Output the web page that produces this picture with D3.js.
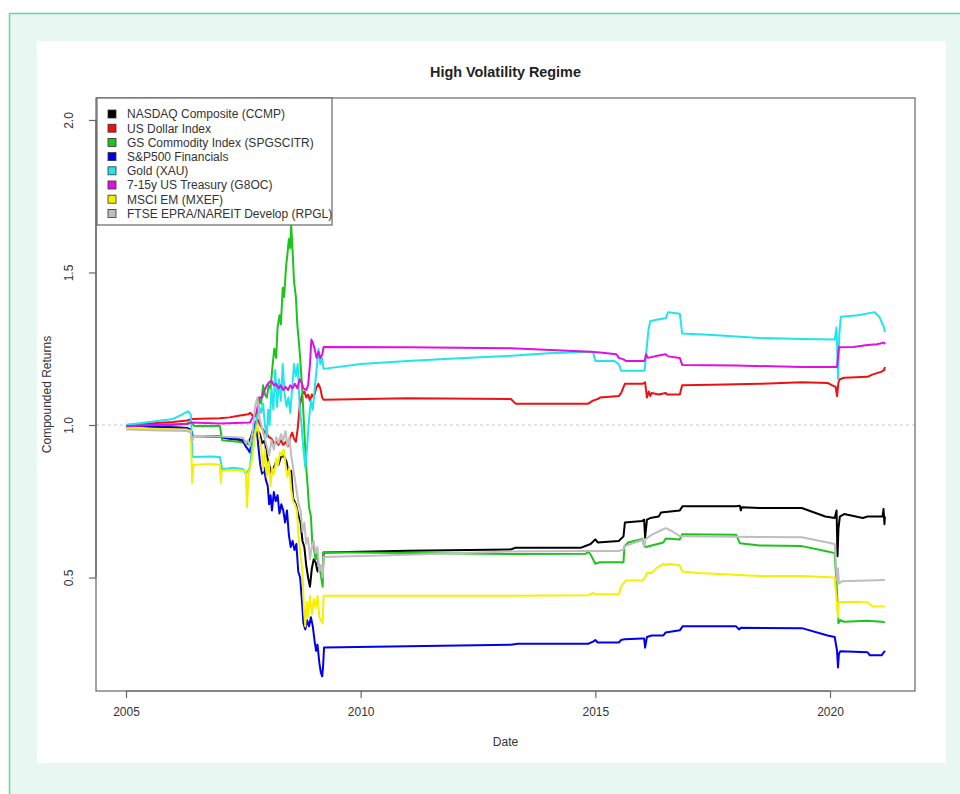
<!DOCTYPE html>
<html>
<head>
<meta charset="utf-8">
<script src="https://cdn.jsdelivr.net/npm/d3@7"></script>
<style>
  html, body { margin: 0; padding: 0; background: #ffffff; }
  svg { display: block; }
  text { font-family: "Liberation Sans", Arial, Helvetica, sans-serif; }
</style>
</head>
<body>
<svg id="chart" width="960" height="794"></svg>
<script>
// ---- Series definitions (decimal year, compounded return) ----
const seriesNames = [
  "NASDAQ Composite (CCMP)",
  "US Dollar Index",
  "GS Commodity Index (SPGSCITR)",
  "S&P500 Financials",
  "Gold (XAU)",
  "7-15y US Treasury (G8OC)",
  "MSCI EM (MXEF)",
  "FTSE EPRA/NAREIT Develop (RPGL)"
];
const seriesColors = ["#000000", "#ee1111", "#1cc41c", "#0000ee", "#22e4ec", "#e010e0", "#f5ef00", "#bebebe"];

const nasdaq = [
  [2005.00,1.000],[2005.50,0.995],[2006.30,0.990],[2006.38,0.985],[2006.42,0.965],[2007.00,0.962],
  [2007.20,0.955],[2007.50,0.950],[2007.60,0.940],[2007.65,0.955],[2007.72,0.990],[2007.79,0.985],
  [2007.855,0.970],[2007.90,0.940],[2007.96,0.950],[2008.00,0.900],[2008.05,0.870],[2008.10,0.840],
  [2008.15,0.860],[2008.20,0.880],[2008.25,0.870],[2008.30,0.895],[2008.36,0.900],[2008.42,0.880],
  [2008.47,0.840],[2008.52,0.850],[2008.56,0.760],[2008.62,0.740],[2008.68,0.700],[2008.72,0.680],
  [2008.76,0.620],[2008.80,0.600],[2008.84,0.540],[2008.88,0.500],[2008.92,0.470],[2008.96,0.530],
  [2009.00,0.560],[2009.04,0.550],[2009.08,0.520],[2009.12,0.540],[2009.16,0.510],[2009.19,0.500],
  [2009.21,0.582],[2011.00,0.588],[2013.20,0.592],[2013.30,0.598],[2014.70,0.598],[2014.90,0.610],
  [2015.00,0.625],[2015.05,0.615],[2015.50,0.620],[2015.60,0.635],[2015.63,0.680],[2016.00,0.685],
  [2016.04,0.690],[2016.06,0.630],[2016.10,0.690],[2016.17,0.695],[2016.35,0.700],[2016.40,0.713],
  [2016.80,0.720],[2016.86,0.734],[2018.00,0.734],[2018.08,0.735],[2018.10,0.720],[2018.12,0.730],
  [2018.50,0.728],[2019.40,0.728],[2019.90,0.700],[2020.10,0.695],[2020.14,0.720],[2020.16,0.570],
  [2020.18,0.660],[2020.21,0.700],[2020.30,0.708],[2020.70,0.695],[2020.80,0.700],[2021.12,0.700],
  [2021.14,0.725],[2021.16,0.675],[2021.17,0.700]
];

const usDollar = [
  [2005.00,1.000],[2005.50,1.005],[2006.00,1.010],[2006.30,1.015],[2006.40,1.020],[2007.00,1.022],
  [2007.20,1.025],[2007.40,1.030],[2007.60,1.035],[2007.65,1.040],[2007.70,1.030],[2007.75,1.035],
  [2007.80,1.020],[2007.86,1.000],[2007.92,0.985],[2007.96,0.975],[2008.00,0.970],[2008.05,0.960],
  [2008.10,0.955],[2008.15,0.940],[2008.20,0.945],[2008.25,0.935],[2008.30,0.950],[2008.35,0.935],
  [2008.40,0.945],[2008.45,0.930],[2008.50,0.960],[2008.54,0.975],[2008.58,0.955],[2008.62,0.945],
  [2008.66,0.990],[2008.70,1.060],[2008.75,1.100],[2008.80,1.110],[2008.84,1.090],[2008.88,1.100],
  [2008.92,1.080],[2008.96,1.100],[2009.00,1.090],[2009.05,1.120],[2009.10,1.135],[2009.14,1.120],
  [2009.18,1.090],[2009.21,1.083],[2011.00,1.088],[2013.20,1.085],[2013.30,1.070],[2014.85,1.070],
  [2014.95,1.080],[2015.05,1.085],[2015.10,1.090],[2015.50,1.095],[2015.55,1.105],[2015.63,1.135],
  [2016.00,1.135],[2016.06,1.140],[2016.10,1.090],[2016.14,1.110],[2016.17,1.095],[2016.20,1.105],
  [2016.35,1.100],[2016.50,1.105],[2016.53,1.100],[2016.80,1.100],[2016.85,1.130],[2017.50,1.132],
  [2018.50,1.135],[2019.40,1.140],[2019.95,1.138],[2020.05,1.130],[2020.12,1.125],[2020.15,1.095],
  [2020.18,1.140],[2020.21,1.150],[2020.30,1.155],[2020.80,1.158],[2020.90,1.165],[2021.10,1.175],
  [2021.15,1.180],[2021.17,1.190]
];

const commodity = [
  [2005.00,1.000],[2005.50,1.000],[2006.00,1.000],[2006.30,1.005],[2006.38,1.010],[2006.45,0.997],
  [2007.00,0.997],[2007.05,0.950],[2007.40,0.945],[2007.55,0.940],[2007.62,0.935],[2007.70,0.950],
  [2007.75,0.970],[2007.80,1.040],[2007.84,1.090],[2007.88,1.070],[2007.92,1.130],[2007.96,1.100],
  [2008.00,1.090],[2008.04,1.130],[2008.08,1.120],[2008.12,1.190],[2008.16,1.250],[2008.20,1.220],
  [2008.23,1.320],[2008.27,1.360],[2008.30,1.330],[2008.34,1.450],[2008.37,1.420],[2008.41,1.520],
  [2008.44,1.560],[2008.47,1.610],[2008.50,1.580],[2008.52,1.655],[2008.55,1.570],[2008.58,1.470],
  [2008.62,1.420],[2008.65,1.330],[2008.69,1.260],[2008.72,1.200],[2008.76,1.100],[2008.80,0.980],
  [2008.84,0.860],[2008.87,0.800],[2008.90,0.730],[2008.94,0.700],[2008.97,0.610],[2009.00,0.600],
  [2009.04,0.560],[2009.07,0.580],[2009.10,0.540],[2009.14,0.520],[2009.17,0.490],[2009.19,0.470],
  [2009.21,0.583],[2011.00,0.580],[2013.30,0.577],[2014.80,0.578],[2014.85,0.585],[2014.90,0.575],
  [2015.00,0.545],[2015.10,0.550],[2015.60,0.550],[2015.62,0.603],[2015.70,0.615],[2016.00,0.626],
  [2016.04,0.605],[2016.08,0.600],[2016.20,0.605],[2016.45,0.615],[2016.50,0.628],[2016.80,0.625],
  [2016.85,0.642],[2018.00,0.640],[2018.08,0.612],[2018.50,0.605],[2019.40,0.603],[2019.95,0.585],
  [2020.10,0.580],[2020.15,0.450],[2020.18,0.350],[2020.22,0.360],[2020.30,0.355],[2020.80,0.358],
  [2021.10,0.355],[2021.17,0.353]
];

const financials = [
  [2005.00,1.000],[2005.50,0.995],[2006.30,0.990],[2006.38,0.985],[2006.42,0.963],[2007.00,0.962],
  [2007.10,0.958],[2007.40,0.955],[2007.50,0.945],[2007.55,0.930],[2007.60,0.920],[2007.64,0.910],
  [2007.68,0.950],[2007.72,0.990],[2007.76,1.010],[2007.79,0.980],[2007.82,0.930],[2007.86,0.870],
  [2007.90,0.840],[2007.94,0.860],[2007.98,0.820],[2008.02,0.800],[2008.05,0.740],[2008.08,0.770],
  [2008.11,0.720],[2008.15,0.780],[2008.19,0.750],[2008.23,0.770],[2008.27,0.710],[2008.31,0.740],
  [2008.35,0.720],[2008.39,0.680],[2008.43,0.720],[2008.47,0.640],[2008.51,0.600],[2008.55,0.620],
  [2008.59,0.590],[2008.63,0.610],[2008.67,0.520],[2008.71,0.500],[2008.75,0.420],[2008.78,0.350],
  [2008.82,0.330],[2008.86,0.360],[2008.90,0.340],[2008.94,0.370],[2008.98,0.340],[2009.02,0.290],
  [2009.05,0.260],[2009.08,0.280],[2009.12,0.220],[2009.15,0.190],[2009.18,0.176],[2009.20,0.210],
  [2009.22,0.271],[2011.00,0.275],[2013.20,0.280],[2013.35,0.283],[2014.85,0.283],[2014.95,0.290],
  [2015.00,0.295],[2015.05,0.287],[2015.50,0.287],[2015.55,0.295],[2015.63,0.298],[2016.00,0.300],
  [2016.04,0.300],[2016.06,0.270],[2016.10,0.305],[2016.20,0.310],[2016.45,0.310],[2016.50,0.320],
  [2016.80,0.327],[2016.86,0.340],[2018.00,0.340],[2018.06,0.330],[2018.10,0.335],[2019.40,0.334],
  [2019.95,0.310],[2020.10,0.305],[2020.15,0.260],[2020.17,0.205],[2020.19,0.250],[2020.22,0.258],
  [2020.80,0.255],[2020.85,0.245],[2021.10,0.245],[2021.17,0.260]
];

const gold = [
  [2005.00,1.000],[2005.50,1.010],[2006.00,1.020],[2006.20,1.035],[2006.32,1.045],[2006.38,1.035],
  [2006.42,0.895],[2006.80,0.897],[2007.00,0.895],[2007.05,0.855],[2007.30,0.860],[2007.50,0.855],
  [2007.55,0.840],[2007.60,0.850],[2007.64,0.860],[2007.68,0.920],[2007.72,0.960],[2007.76,0.990],
  [2007.80,1.030],[2007.84,1.060],[2007.88,1.040],[2007.92,1.070],[2007.96,1.000],[2008.00,0.960],
  [2008.03,1.050],[2008.06,1.000],[2008.10,1.120],[2008.14,1.050],[2008.18,1.180],[2008.22,1.060],
  [2008.26,1.150],[2008.30,1.080],[2008.34,1.200],[2008.38,1.100],[2008.42,1.060],[2008.46,1.090],
  [2008.50,1.040],[2008.54,1.120],[2008.58,1.200],[2008.62,1.160],[2008.66,1.200],[2008.70,1.060],
  [2008.74,1.000],[2008.78,0.920],[2008.82,0.860],[2008.86,0.930],[2008.90,1.020],[2008.94,1.080],
  [2008.98,1.050],[2009.02,1.120],[2009.06,1.180],[2009.10,1.250],[2009.14,1.200],[2009.18,1.220],
  [2009.21,1.184],[2010.00,1.200],[2011.00,1.210],[2012.00,1.218],[2013.00,1.225],[2014.00,1.235],
  [2014.95,1.240],[2015.00,1.210],[2015.40,1.210],[2015.50,1.200],[2015.55,1.178],[2016.05,1.178],
  [2016.10,1.260],[2016.13,1.310],[2016.17,1.340],[2016.30,1.345],[2016.50,1.350],[2016.55,1.370],
  [2016.80,1.365],[2016.85,1.300],[2017.50,1.295],[2018.50,1.285],[2019.40,1.282],[2020.10,1.280],
  [2020.14,1.320],[2020.17,1.150],[2020.20,1.300],[2020.23,1.355],[2020.60,1.360],[2020.95,1.370],
  [2021.05,1.355],[2021.15,1.320],[2021.17,1.305]
];

const treasury = [
  [2005.00,0.995],[2005.50,1.000],[2006.30,1.003],[2006.40,1.008],[2007.00,1.005],[2007.50,1.007],
  [2007.64,1.008],[2007.72,1.030],[2007.78,1.040],[2007.84,1.090],[2007.90,1.090],[2007.94,1.110],
  [2008.00,1.130],[2008.05,1.140],[2008.10,1.145],[2008.15,1.130],[2008.20,1.135],[2008.25,1.120],
  [2008.30,1.130],[2008.35,1.115],[2008.40,1.125],[2008.45,1.115],[2008.50,1.130],[2008.55,1.120],
  [2008.60,1.135],[2008.65,1.120],[2008.70,1.150],[2008.74,1.140],[2008.78,1.120],[2008.84,1.115],
  [2008.88,1.130],[2008.92,1.200],[2008.95,1.280],[2008.98,1.270],[2009.02,1.250],[2009.06,1.220],
  [2009.10,1.240],[2009.14,1.220],[2009.18,1.230],[2009.21,1.256],[2011.00,1.255],[2013.20,1.252],
  [2014.90,1.240],[2015.10,1.238],[2015.45,1.232],[2015.50,1.220],[2015.60,1.215],[2015.65,1.210],
  [2016.05,1.210],[2016.08,1.232],[2016.12,1.220],[2016.35,1.228],[2016.50,1.232],[2016.55,1.225],
  [2016.80,1.220],[2016.85,1.197],[2018.00,1.195],[2019.40,1.190],[2020.10,1.190],[2020.15,1.190],
  [2020.19,1.255],[2020.50,1.256],[2020.80,1.262],[2021.00,1.265],[2021.15,1.270],[2021.17,1.265]
];

const emerging = [
  [2005.00,0.990],[2005.50,0.988],[2006.30,0.985],[2006.38,0.980],[2006.41,0.810],[2006.44,0.870],
  [2006.80,0.872],[2007.00,0.870],[2007.02,0.810],[2007.04,0.850],[2007.30,0.852],[2007.55,0.850],
  [2007.58,0.730],[2007.61,0.840],[2007.65,0.860],[2007.70,0.900],[2007.75,0.970],[2007.80,1.000],
  [2007.84,0.960],[2007.88,0.930],[2007.92,0.850],[2007.96,0.920],[2008.00,0.830],[2008.04,0.880],
  [2008.08,0.800],[2008.12,0.860],[2008.16,0.840],[2008.20,0.890],[2008.24,0.870],[2008.28,0.910],
  [2008.32,0.900],[2008.36,0.920],[2008.40,0.870],[2008.44,0.830],[2008.48,0.860],[2008.52,0.790],
  [2008.56,0.750],[2008.60,0.740],[2008.64,0.720],[2008.68,0.630],[2008.72,0.570],[2008.76,0.520],
  [2008.79,0.400],[2008.82,0.340],[2008.85,0.420],[2008.88,0.370],[2008.92,0.440],[2008.96,0.380],
  [2009.00,0.430],[2009.04,0.400],[2009.08,0.440],[2009.12,0.370],[2009.15,0.360],[2009.19,0.350],
  [2009.21,0.440],[2011.00,0.440],[2013.20,0.440],[2014.85,0.442],[2014.95,0.450],[2015.00,0.445],
  [2015.50,0.445],[2015.55,0.470],[2015.62,0.485],[2015.65,0.490],[2016.00,0.490],[2016.06,0.500],
  [2016.10,0.515],[2016.20,0.515],[2016.30,0.530],[2016.40,0.540],[2016.45,0.545],[2016.50,0.540],
  [2016.55,0.545],[2016.80,0.540],[2016.85,0.520],[2017.20,0.515],[2018.50,0.505],[2019.40,0.505],
  [2020.10,0.500],[2020.15,0.410],[2020.17,0.370],[2020.19,0.420],[2020.60,0.420],[2020.80,0.418],
  [2020.90,0.406],[2021.17,0.405]
];

const reit = [
  [2005.00,0.985],[2005.50,0.983],[2006.30,0.980],[2006.38,0.975],[2006.41,0.945],[2006.45,0.965],
  [2007.00,0.962],[2007.50,0.958],[2007.55,0.940],[2007.60,0.950],[2007.64,0.930],[2007.70,0.980],
  [2007.75,1.060],[2007.80,1.090],[2007.85,1.020],[2007.90,0.990],[2007.95,0.960],[2008.00,0.930],
  [2008.05,0.900],[2008.10,0.950],[2008.15,0.920],[2008.20,0.960],[2008.25,0.940],[2008.30,0.970],
  [2008.35,0.950],[2008.40,0.980],[2008.44,0.930],[2008.48,0.960],[2008.52,0.900],[2008.56,0.860],
  [2008.60,0.820],[2008.64,0.780],[2008.68,0.740],[2008.72,0.720],[2008.76,0.650],[2008.80,0.680],
  [2008.84,0.610],[2008.88,0.630],[2008.92,0.560],[2008.96,0.600],[2009.00,0.620],[2009.04,0.580],
  [2009.08,0.600],[2009.12,0.520],[2009.16,0.540],[2009.19,0.500],[2009.21,0.567],[2011.00,0.575],
  [2013.20,0.585],[2014.90,0.587],[2015.50,0.587],[2015.60,0.592],[2015.63,0.603],[2016.00,0.623],
  [2016.04,0.600],[2016.07,0.625],[2016.20,0.640],[2016.40,0.655],[2016.50,0.662],[2016.60,0.655],
  [2016.80,0.636],[2016.86,0.635],[2018.50,0.633],[2019.40,0.632],[2019.95,0.615],[2020.10,0.610],
  [2020.15,0.490],[2020.17,0.530],[2020.19,0.480],[2020.25,0.488],[2020.80,0.490],[2021.17,0.492]
];

const seriesValues = [nasdaq, usDollar, commodity, financials, gold, treasury, emerging, reit];

const xTicks = [2005, 2010, 2015, 2020];
const xTickLabels = ["2005", "2010", "2015", "2020"];
const yTicks = [0.5, 1.0, 1.5, 2.0];
const yTickLabels = ["0.5", "1.0", "1.5", "2.0"];

// ---- Page frame ----
const svg = d3.select("#chart");
svg.append("rect").attr("x", 9.5).attr("y", 13.5).attr("width", 1000).attr("height", 1000)
  .attr("fill", "#e8f7f1").attr("stroke", "#68d3a4").attr("stroke-width", 1.5);
svg.append("rect").attr("x", 37).attr("y", 41).attr("width", 909).attr("height", 722)
  .attr("fill", "#ffffff");

// ---- Plot region ----
const plot = { left: 96, right: 915, top: 98, bottom: 691 };
const x = d3.scaleLinear().domain([2004.361, 2021.811]).range([plot.left, plot.right]);
const y = d3.scaleLinear().domain([0.128, 2.072]).range([plot.bottom, plot.top]);

const textColor = "#333333";
const axisColor = "#666666";

// Title
svg.append("text").attr("x", (plot.left + plot.right) / 2).attr("y", 77)
  .attr("text-anchor", "middle").attr("font-size", "14.4px").attr("font-weight", "bold")
  .attr("fill", "#222").text("High Volatility Regime");

// Reference line at 1.0
svg.append("line").attr("x1", plot.left).attr("x2", plot.right)
  .attr("y1", y(1)).attr("y2", y(1))
  .attr("stroke", "#c8c8c8").attr("stroke-width", 1).attr("stroke-dasharray", "3,3");

// Series lines
const line = d3.line().x(d => x(d[0])).y(d => y(d[1]));
const linesG = svg.append("g");
seriesValues.forEach((vals, i) => {
  linesG.append("path").datum(vals).attr("d", line)
    .attr("fill", "none").attr("stroke", seriesColors[i])
    .attr("stroke-width", 2).attr("stroke-linejoin", "round");
});

// Plot box
svg.append("rect").attr("x", plot.left).attr("y", plot.top)
  .attr("width", plot.right - plot.left).attr("height", plot.bottom - plot.top)
  .attr("fill", "none").attr("stroke", axisColor).attr("stroke-width", 1.2);

// X axis
const xAxis = d3.axisBottom(x).tickValues(xTicks)
  .tickFormat((d, i) => xTickLabels[i]).tickSizeInner(7).tickSizeOuter(0).tickPadding(9);
const gx = svg.append("g").attr("transform", `translate(0,${plot.bottom})`).call(xAxis);
gx.select(".domain").attr("stroke", axisColor).attr("stroke-width", 1.2)
  .attr("d", `M${x(xTicks[0])},0H${x(xTicks[xTicks.length - 1])}`);
gx.selectAll(".tick line").attr("stroke", axisColor).attr("stroke-width", 1.2);
gx.selectAll(".tick text").attr("fill", textColor).attr("font-size", "12px")
  .attr("font-family", "'Liberation Sans', Arial, sans-serif");

// Y axis (labels parallel to the axis)
const yAxis = d3.axisLeft(y).tickValues(yTicks)
  .tickFormat((d, i) => yTickLabels[i]).tickSizeInner(7).tickSizeOuter(0).tickPadding(0);
const gy = svg.append("g").attr("transform", `translate(${plot.left},0)`).call(yAxis);
gy.select(".domain").attr("stroke", axisColor).attr("stroke-width", 1.2)
  .attr("d", `M0,${y(yTicks[0])}V${y(yTicks[yTicks.length - 1])}`);
gy.selectAll(".tick line").attr("stroke", axisColor).attr("stroke-width", 1.2);
gy.selectAll(".tick text").attr("fill", textColor).attr("font-size", "12px")
  .attr("font-family", "'Liberation Sans', Arial, sans-serif")
  .attr("text-anchor", "middle").attr("dy", null)
  .attr("x", 0).attr("y", 0)
  .attr("transform", "translate(-23,0) rotate(-90)");

// Axis titles
svg.append("text").attr("x", (plot.left + plot.right) / 2).attr("y", 746)
  .attr("text-anchor", "middle").attr("font-size", "12px").attr("fill", textColor).text("Date");
svg.append("text").attr("transform", `translate(51,${(plot.top + plot.bottom) / 2}) rotate(-90)`)
  .attr("text-anchor", "middle").attr("font-size", "12px").attr("fill", textColor)
  .text("Compounded Returns");

// Legend
const legend = svg.append("g");
const legendTop = plot.top, legendLeft = plot.left + 1;
const rowH = 14.2;
legend.append("rect").attr("x", legendLeft).attr("y", legendTop)
  .attr("width", 235).attr("height", 127)
  .attr("fill", "#ffffff").attr("stroke", axisColor).attr("stroke-width", 1.2);
seriesNames.forEach((name, i) => {
  const cy = legendTop + 16 + i * rowH;
  legend.append("rect").attr("x", legendLeft + 11).attr("y", cy - 4)
    .attr("width", 8).attr("height", 8)
    .attr("fill", seriesColors[i]).attr("stroke", "#333").attr("stroke-width", 0.8);
  legend.append("text").attr("x", legendLeft + 30).attr("y", cy + 4.3)
    .attr("font-size", "12px").attr("fill", textColor).text(name);
});
</script>
</body>
</html>
